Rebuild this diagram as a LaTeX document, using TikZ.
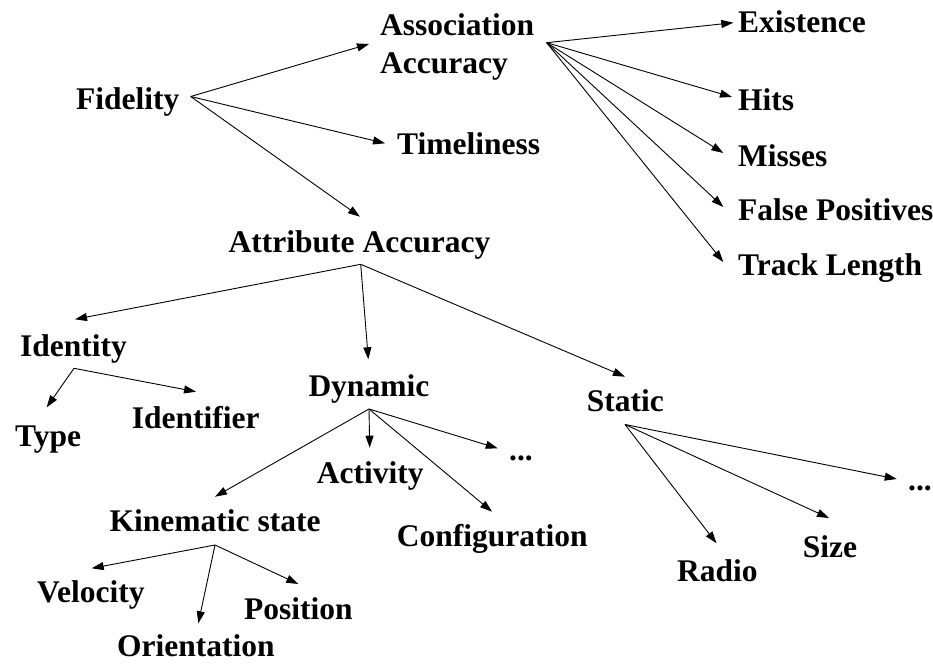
\documentclass[tikz,border=0pt]{standalone}
\usepackage{fontspec}
\setmainfont{Liberation Serif}
\usetikzlibrary{arrows.meta}
\tikzset{
  lbl/.style={anchor=base west, inner sep=0pt, font=\fontsize{31.5}{36}\selectfont\bfseries},
  conn/.style={-{Triangle[length=12pt,width=8pt]}, line width=0.9pt, black},
}
\begin{document}
\begin{tikzpicture}[x=1pt,y=-1pt]
\useasboundingbox (0,0) rectangle (933,663);
\clip (0,0) rectangle (933,663);
% text nodes
\node[lbl] (fid) at (76,110) {Fidelity};
\node[lbl] (assoc) at (380,35.5) {Association};
\node[lbl] (assoc2) at (380,73.5) {Accuracy};
\node[lbl] (time) at (397,155) {Timeliness};
\node[lbl] (attr) at (228.5,252) {Attribute Accuracy};
\node[lbl] (exist) at (738,32.5) {Existence};
\node[lbl] (hits) at (738,111) {Hits};
\node[lbl] (miss) at (738,167) {Misses};
\node[lbl] (fp) at (738,220.5) {False Positives};
\node[lbl] (tl) at (738,275) {Track Length};
\node[lbl] (ident) at (20,356) {Identity};
\node[lbl] (type) at (15,446) {Type};
\node[lbl] (idf) at (131.7,428.5) {Identifier};
\node[lbl] (dyn) at (308.3,396) {Dynamic};
\node[lbl] (stat) at (586.7,411.7) {Static};
\node[lbl] (act) at (316.7,483) {Activity};
\node[lbl] (dotsa) at (509,460) {...};
\node[lbl] (conf) at (396.7,546.7) {Configuration};
\node[lbl] (kin) at (109.5,531.7) {Kinematic state};
\node[lbl] (vel) at (37,602) {Velocity};
\node[lbl] (ori) at (117,656) {Orientation};
\node[lbl] (pos) at (244,619) {Position};
\node[lbl] (dotsb) at (908,490) {...};
\node[lbl] (size) at (802.7,557.5) {Size};
\node[lbl] (radio) at (677,581) {Radio};
% branching points
\coordinate (fid-o) at (190.7,96.5);
\coordinate (assoc-o) at (546.7,42.7);
\coordinate (attr-o) at (360.7,264.3);
\coordinate (ident-o) at (74,368.3);
\coordinate (dyn-o) at (369,409);
\coordinate (stat-o) at (625,424.5);
\coordinate (kin-o) at (215,545);
% arrow tips
\coordinate (assoc-i) at (369,44);
\coordinate (time-i) at (385,143.3);
\coordinate (attr-i) at (360,216.7);
\coordinate (exist-i) at (733.3,22.7);
\coordinate (hits-i) at (732,97);
\coordinate (miss-i) at (723.3,153);
\coordinate (fp-i) at (723.3,207);
\coordinate (tl-i) at (723.3,262);
\coordinate (ident-i) at (75,319.3);
\coordinate (dyn-i) at (368.3,359.3);
\coordinate (stat-i) at (625,376.7);
\coordinate (type-i) at (46.7,407.3);
\coordinate (idf-i) at (196,391.7);
\coordinate (kin-i) at (215,496.7);
\coordinate (act-i) at (369.7,447.7);
\coordinate (dotsa-i) at (497.7,448.3);
\coordinate (conf-i) at (492,511.7);
\coordinate (dotsb-i) at (896.7,479);
\coordinate (size-i) at (829,518);
\coordinate (radio-i) at (716.5,543.3);
\coordinate (vel-i) at (91.7,568.3);
\coordinate (ori-i) at (198.3,623.3);
\coordinate (pos-i) at (298.3,584);
% connectors
\draw[conn] (fid-o) -- (assoc-i);
\draw[conn] (fid-o) -- (time-i);
\draw[conn] (fid-o) -- (attr-i);
\draw[conn] (assoc-o) -- (exist-i);
\draw[conn] (assoc-o) -- (hits-i);
\draw[conn] (assoc-o) -- (miss-i);
\draw[conn] (assoc-o) -- (fp-i);
\draw[conn] (assoc-o) -- (tl-i);
\draw[conn] (attr-o) -- (ident-i);
\draw[conn] (attr-o) -- (dyn-i);
\draw[conn] (attr-o) -- (stat-i);
\draw[conn] (ident-o) -- (type-i);
\draw[conn] (ident-o) -- (idf-i);
\draw[conn] (dyn-o) -- (kin-i);
\draw[conn] (dyn-o) -- (act-i);
\draw[conn] (dyn-o) -- (dotsa-i);
\draw[conn] (dyn-o) -- (conf-i);
\draw[conn] (stat-o) -- (dotsb-i);
\draw[conn] (stat-o) -- (size-i);
\draw[conn] (stat-o) -- (radio-i);
\draw[conn] (kin-o) -- (vel-i);
\draw[conn] (kin-o) -- (ori-i);
\draw[conn] (kin-o) -- (pos-i);
\end{tikzpicture}
\end{document}
